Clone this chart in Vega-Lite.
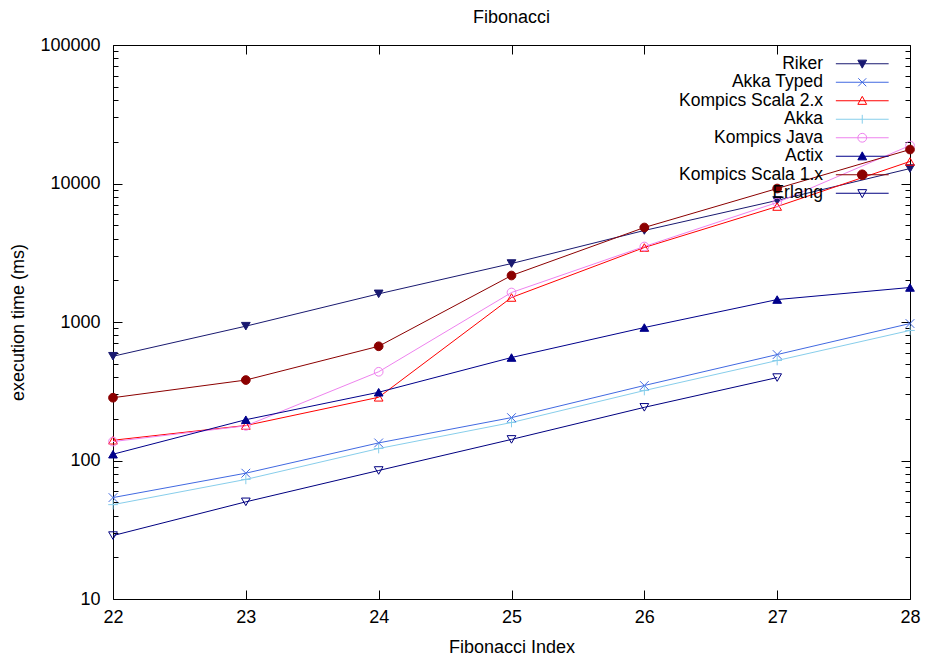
{
  "$schema": "https://vega.github.io/schema/vega-lite/v6.json",
  "width": 797,
  "height": 554,
  "autosize": "none",
  "padding": {"left": 113, "top": 45, "right": 18, "bottom": 58},
  "background": "white",
  "title": {"text": "Fibonacci", "font": "Liberation Sans", "fontSize": 18, "fontWeight": "normal", "color": "black", "offset": 9},
  "config": {
    "view": {"stroke": null},
    "axis": {"labelFont": "Liberation Sans", "titleFont": "Liberation Sans", "labelFontSize": 18, "titleFontSize": 18, "titleFontWeight": "normal", "labelColor": "black", "titleColor": "black", "domainColor": "black", "tickColor": "black", "grid": false},
    "legend": {"labelFont": "Liberation Sans", "labelFontSize": 17.5, "labelColor": "black"}
  },
  "data": {"values": [
    {"index": 22, "series": "Riker", "time": 566},
    {"index": 23, "series": "Riker", "time": 933},
    {"index": 24, "series": "Riker", "time": 1597},
    {"index": 25, "series": "Riker", "time": 2643},
    {"index": 26, "series": "Riker", "time": 4580},
    {"index": 27, "series": "Riker", "time": 7550},
    {"index": 28, "series": "Riker", "time": 12820},
    {"index": 22, "series": "Akka Typed", "time": 54},
    {"index": 23, "series": "Akka Typed", "time": 81},
    {"index": 24, "series": "Akka Typed", "time": 134},
    {"index": 25, "series": "Akka Typed", "time": 204},
    {"index": 26, "series": "Akka Typed", "time": 348},
    {"index": 27, "series": "Akka Typed", "time": 582},
    {"index": 28, "series": "Akka Typed", "time": 975},
    {"index": 22, "series": "Kompics Scala 2.x", "time": 140},
    {"index": 23, "series": "Kompics Scala 2.x", "time": 179},
    {"index": 24, "series": "Kompics Scala 2.x", "time": 286},
    {"index": 25, "series": "Kompics Scala 2.x", "time": 1503},
    {"index": 26, "series": "Kompics Scala 2.x", "time": 3451},
    {"index": 27, "series": "Kompics Scala 2.x", "time": 6820},
    {"index": 28, "series": "Kompics Scala 2.x", "time": 14420},
    {"index": 22, "series": "Akka", "time": 48},
    {"index": 23, "series": "Akka", "time": 73},
    {"index": 24, "series": "Akka", "time": 122},
    {"index": 25, "series": "Akka", "time": 188},
    {"index": 26, "series": "Akka", "time": 320},
    {"index": 27, "series": "Akka", "time": 527},
    {"index": 28, "series": "Akka", "time": 869},
    {"index": 22, "series": "Kompics Java", "time": 137},
    {"index": 23, "series": "Kompics Java", "time": 178},
    {"index": 24, "series": "Kompics Java", "time": 437},
    {"index": 25, "series": "Kompics Java", "time": 1633},
    {"index": 26, "series": "Kompics Java", "time": 3507},
    {"index": 27, "series": "Kompics Java", "time": 7290},
    {"index": 28, "series": "Kompics Java", "time": 18800},
    {"index": 22, "series": "Actix", "time": 111},
    {"index": 23, "series": "Actix", "time": 197},
    {"index": 24, "series": "Actix", "time": 311},
    {"index": 25, "series": "Actix", "time": 554},
    {"index": 26, "series": "Actix", "time": 912},
    {"index": 27, "series": "Actix", "time": 1452},
    {"index": 28, "series": "Actix", "time": 1775},
    {"index": 22, "series": "Kompics Scala 1.x", "time": 284},
    {"index": 23, "series": "Kompics Scala 1.x", "time": 381},
    {"index": 24, "series": "Kompics Scala 1.x", "time": 668},
    {"index": 25, "series": "Kompics Scala 1.x", "time": 2166},
    {"index": 26, "series": "Kompics Scala 1.x", "time": 4813},
    {"index": 27, "series": "Kompics Scala 1.x", "time": 9200},
    {"index": 28, "series": "Kompics Scala 1.x", "time": 17590},
    {"index": 22, "series": "Erlang", "time": 28.7},
    {"index": 23, "series": "Erlang", "time": 50.3},
    {"index": 24, "series": "Erlang", "time": 84.7},
    {"index": 25, "series": "Erlang", "time": 142},
    {"index": 26, "series": "Erlang", "time": 242},
    {"index": 27, "series": "Erlang", "time": 397}
  ]},
  "layer": [
    {
      "mark": {"type": "line", "strokeWidth": 1},
      "encoding": {
        "x": {"field": "index", "type": "quantitative", "title": "Fibonacci Index",
          "scale": {"domain": [22, 28], "nice": false, "zero": false},
          "axis": {"orient": "bottom", "values": [22, 23, 24, 25, 26, 27, 28], "format": "d", "tickSize": -9, "labelPadding": 18, "labelFlush": false, "labelBound": false, "titlePadding": 12, "domainWidth": 1}},
        "y": {"field": "time", "type": "quantitative", "title": "execution time (ms)",
          "scale": {"type": "log", "domain": [10, 100000], "nice": false},
          "axis": {"orient": "left",
            "values": [10, 20, 30, 40, 50, 60, 70, 80, 90, 100, 200, 300, 400, 500, 600, 700, 800, 900, 1000, 2000, 3000, 4000, 5000, 6000, 7000, 8000, 9000, 10000, 20000, 30000, 40000, 50000, 60000, 70000, 80000, 90000, 100000],
            "labelExpr": "abs(log(datum.value)/LN10 - round(log(datum.value)/LN10)) < 0.001 ? format(datum.value, 'd') : ''",
            "tickSize": {"condition": {"test": "abs(log(datum.value)/LN10 - round(log(datum.value)/LN10)) < 0.001", "value": -9}, "value": -5},
            "labelPadding": 22, "titlePadding": 12, "labelBound": false, "labelFlush": false, "labelOverlap": false}},
        "color": {"field": "series", "type": "nominal", "legend": null,
          "scale": {"domain": ["Riker", "Akka Typed", "Kompics Scala 2.x", "Akka", "Kompics Java", "Actix", "Kompics Scala 1.x", "Erlang"],
            "range": ["#191970", "#4169e1", "#ff0000", "#87ceeb", "#ee82ee", "#00008b", "#8b0000", "#000080"]}}
      }
    },
    {
      "transform": [{"filter": "datum.index < 0"}],
      "mark": {"type": "point", "filled": false, "size": 64, "strokeWidth": 1},
      "encoding": {
        "x": {"field": "index", "type": "quantitative", "axis": null},
        "y": {"field": "time", "type": "quantitative", "axis": null},
        "color": {"field": "series", "type": "nominal",
          "legend": {"title": null, "orient": "none", "legendX": 740.5, "legendY": 10, "padding": 0, "rowPadding": -0.5,
            "symbolSize": 64, "symbolStrokeWidth": 1, "symbolOpacity": 1, "labelAlign": "right", "labelOffset": -48},
          "scale": {"domain": ["Riker", "Akka Typed", "Kompics Scala 2.x", "Akka", "Kompics Java", "Actix", "Kompics Scala 1.x", "Erlang"],
            "range": ["#191970", "#4169e1", "#ff0000", "#87ceeb", "#ee82ee", "#00008b", "#8b0000", "#000080"]}},
        "shape": {"field": "series", "type": "nominal", "legend": null,
          "scale": {"domain": ["Riker", "Akka Typed", "Kompics Scala 2.x", "Akka", "Kompics Java", "Actix", "Kompics Scala 1.x", "Erlang"],
            "range": ["M-6.6,0H6.6M-1.1,-0.9L1.1,-0.9L0,1.1Z", "M-6.6,0H6.6M-1,-1L1,1M-1,1L1,-1", "M-6.6,0H6.6M0,-1.1L1.1,0.9L-1.1,0.9Z", "M-6.6,0H6.6M0,-1.1V1.1", "M-6.6,0H6.6M1.1,0A1.1,1.1,0,1,1,-1.1,0A1.1,1.1,0,1,1,1.1,0Z", "M-6.6,0H6.6M0,-1.1L1.1,0.9L-1.1,0.9Z", "M-6.6,0H6.6M1.2,0A1.2,1.2,0,1,1,-1.2,0A1.2,1.2,0,1,1,1.2,0Z", "M-6.6,0H6.6M-1.1,-0.9L1.1,-0.9L0,1.1Z"]}},
        "fill": {"field": "series", "type": "nominal", "legend": null,
          "scale": {"domain": ["Riker", "Akka Typed", "Kompics Scala 2.x", "Akka", "Kompics Java", "Actix", "Kompics Scala 1.x", "Erlang"],
            "range": ["#191970", "transparent", "transparent", "transparent", "transparent", "#00008b", "#8b0000", "transparent"]}}
      }
    },
    {
      "mark": {"type": "point", "filled": false, "size": 76, "strokeWidth": 1, "opacity": 1},
      "encoding": {
        "x": {"field": "index", "type": "quantitative",
          "axis": {"orient": "top", "values": [22, 23, 24, 25, 26, 27, 28], "labels": false, "title": null, "tickSize": -9, "domain": true}},
        "y": {"field": "time", "type": "quantitative",
          "axis": {"orient": "right", "title": null, "labels": false,
            "values": [10, 20, 30, 40, 50, 60, 70, 80, 90, 100, 200, 300, 400, 500, 600, 700, 800, 900, 1000, 2000, 3000, 4000, 5000, 6000, 7000, 8000, 9000, 10000, 20000, 30000, 40000, 50000, 60000, 70000, 80000, 90000, 100000],
            "tickSize": {"condition": {"test": "abs(log(datum.value)/LN10 - round(log(datum.value)/LN10)) < 0.001", "value": -9}, "value": -5}}},
        "color": {"field": "series", "type": "nominal", "legend": null,
          "scale": {"domain": ["Riker", "Akka Typed", "Kompics Scala 2.x", "Akka", "Kompics Java", "Actix", "Kompics Scala 1.x", "Erlang"],
            "range": ["#191970", "#4169e1", "#ff0000", "#87ceeb", "#ee82ee", "#00008b", "#8b0000", "#000080"]}},
        "shape": {"field": "series", "type": "nominal", "legend": null,
          "scale": {"domain": ["Riker", "Akka Typed", "Kompics Scala 2.x", "Akka", "Kompics Java", "Actix", "Kompics Scala 1.x", "Erlang"],
            "range": ["triangle-down", "M-1,-1L1,1M-1,1L1,-1", "triangle-up", "M-1.1,0H1.1M0,-1.1V1.1", "circle", "triangle-up", "circle", "triangle-down"]}},
        "fill": {"field": "series", "type": "nominal", "legend": null,
          "scale": {"domain": ["Riker", "Akka Typed", "Kompics Scala 2.x", "Akka", "Kompics Java", "Actix", "Kompics Scala 1.x", "Erlang"],
            "range": ["#191970", "transparent", "transparent", "transparent", "transparent", "#00008b", "#8b0000", "transparent"]}}
      }
    }
  ],
  "resolve": {
    "scale": {"color": "independent", "shape": "independent", "fill": "independent"},
    "legend": {"color": "independent", "shape": "independent", "fill": "independent"},
    "axis": {"x": "independent", "y": "independent"}
  }
}
